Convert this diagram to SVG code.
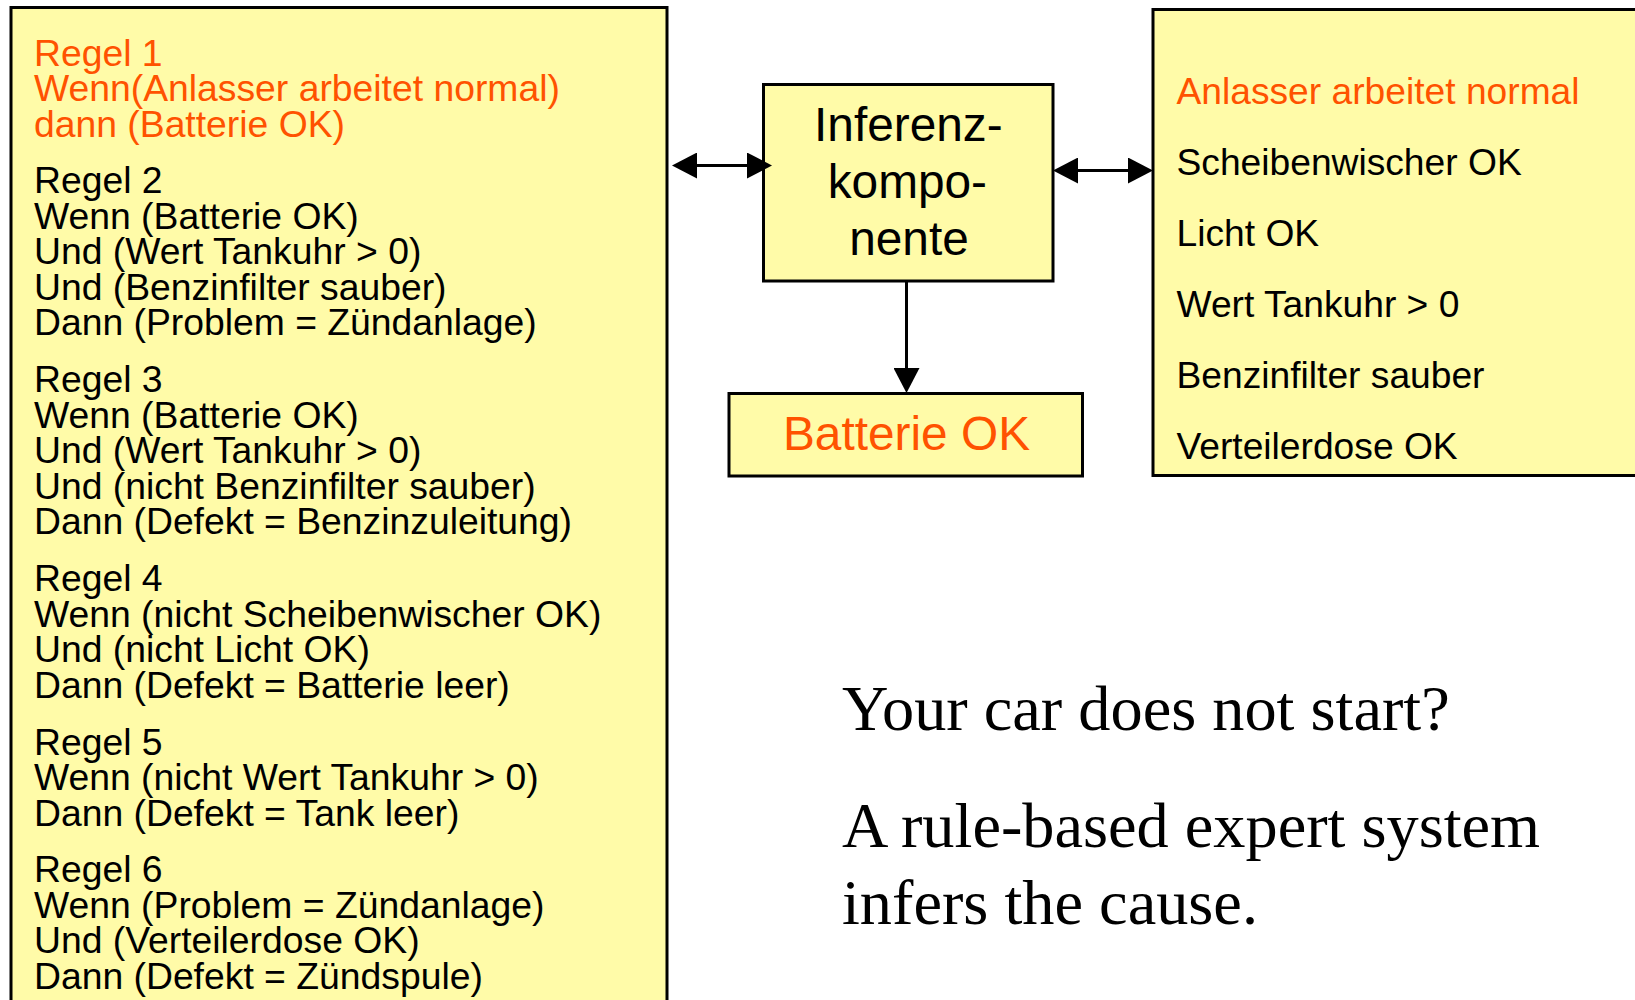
<svg xmlns="http://www.w3.org/2000/svg" width="1635" height="1000" viewBox="0 0 1635 1000">
  <style>
    .box { fill: #FFFBA8; stroke: #000; stroke-width: 3; }
    .sans { font-family: "Liberation Sans", Arial, Helvetica, sans-serif; fill: #000; }
    .hl { fill: #FF5200; }
    .rule { font-size: 37.3px; }
    .fact { font-size: 37.2px; }
    .big { font-size: 47.8px; }
    .serif { font-family: "Liberation Serif", "Times New Roman", serif; font-size: 64.3px; fill: #000; }
    .conn { stroke: #000; stroke-width: 3; fill: none; }
  </style>
  <defs>
    <marker id="ah" markerUnits="userSpaceOnUse" markerWidth="25" markerHeight="26" refX="15" refY="13" orient="auto-start-reverse" viewBox="0 0 25 26">
      <path d="M0,0 L25,13 L0,26 z" fill="#000"/>
    </marker>
  </defs>
  <rect width="1635" height="1000" fill="#fff"/>

  <g id="rules">
    <rect class="box" x="11" y="7.5" width="656" height="1010"/>
    <text class="sans rule hl" x="34">
      <tspan x="34" y="65.5">Regel 1</tspan>
      <tspan x="34" y="101">Wenn(Anlasser arbeitet normal)</tspan>
      <tspan x="34" y="136.6">dann (Batterie OK)</tspan>
    </text>
    <text class="sans rule" x="34">
      <tspan x="34" y="193">Regel 2</tspan>
      <tspan x="34" y="228.6">Wenn (Batterie OK)</tspan>
      <tspan x="34" y="264.2">Und (Wert Tankuhr &gt; 0)</tspan>
      <tspan x="34" y="299.8">Und (Benzinfilter sauber)</tspan>
      <tspan x="34" y="335.4">Dann (Problem = Zündanlage)</tspan>
    </text>
    <text class="sans rule" x="34">
      <tspan x="34" y="392">Regel 3</tspan>
      <tspan x="34" y="427.6">Wenn (Batterie OK)</tspan>
      <tspan x="34" y="463.2">Und (Wert Tankuhr &gt; 0)</tspan>
      <tspan x="34" y="498.8">Und (nicht Benzinfilter sauber)</tspan>
      <tspan x="34" y="534.4">Dann (Defekt = Benzinzuleitung)</tspan>
    </text>
    <text class="sans rule" x="34">
      <tspan x="34" y="591">Regel 4</tspan>
      <tspan x="34" y="626.6">Wenn (nicht Scheibenwischer OK)</tspan>
      <tspan x="34" y="662.2">Und (nicht Licht OK)</tspan>
      <tspan x="34" y="697.8">Dann (Defekt = Batterie leer)</tspan>
    </text>
    <text class="sans rule" x="34">
      <tspan x="34" y="754.5">Regel 5</tspan>
      <tspan x="34" y="790.1">Wenn (nicht Wert Tankuhr &gt; 0)</tspan>
      <tspan x="34" y="825.7">Dann (Defekt = Tank leer)</tspan>
    </text>
    <text class="sans rule" x="34">
      <tspan x="34" y="882">Regel 6</tspan>
      <tspan x="34" y="917.6">Wenn (Problem = Zündanlage)</tspan>
      <tspan x="34" y="953.2">Und (Verteilerdose OK)</tspan>
      <tspan x="34" y="988.8">Dann (Defekt = Zündspule)</tspan>
    </text>
  </g>

  <g id="inferenz">
    <rect class="box" x="763.5" y="84.5" width="289.5" height="196.5"/>
    <text class="sans big" text-anchor="middle">
      <tspan x="915" y="141">Inferenz-</tspan>
      <tspan x="914" y="197.5">kompo-</tspan>
      <tspan x="909" y="255">nente</tspan>
    </text>
  </g>

  <g id="result">
    <rect class="box" x="729" y="393.5" width="353.5" height="82.5"/>
    <text class="sans big hl" x="906.5" y="450" text-anchor="middle">Batterie OK</text>
  </g>

  <g id="facts">
    <rect class="box" x="1153" y="9.5" width="500" height="466"/>
    <text class="sans fact">
      <tspan class="hl" x="1176.5" y="103.5">Anlasser arbeitet normal</tspan>
      <tspan x="1176.5" y="174.5">Scheibenwischer OK</tspan>
      <tspan x="1176.5" y="245.5">Licht OK</tspan>
      <tspan x="1176.5" y="316.5">Wert Tankuhr &gt; 0</tspan>
      <tspan x="1176.5" y="387.5">Benzinfilter sauber</tspan>
      <tspan x="1176.5" y="458.5">Verteilerdose OK</tspan>
    </text>
  </g>

  <g id="caption">
    <text class="serif" x="842" y="730">Your car does not start?</text>
    <text class="serif" x="842" y="847">A rule-based expert system</text>
    <text class="serif" x="842" y="924">infers the cause.</text>
  </g>

  <g id="connectors">
    <line class="conn" x1="682" y1="165.5" x2="762" y2="165.5" marker-start="url(#ah)" marker-end="url(#ah)"/>
    <line class="conn" x1="1063" y1="170.5" x2="1143" y2="170.5" marker-start="url(#ah)" marker-end="url(#ah)"/>
    <line class="conn" x1="906.5" y1="281" x2="906.5" y2="383" marker-end="url(#ah)"/>
  </g>
</svg>
